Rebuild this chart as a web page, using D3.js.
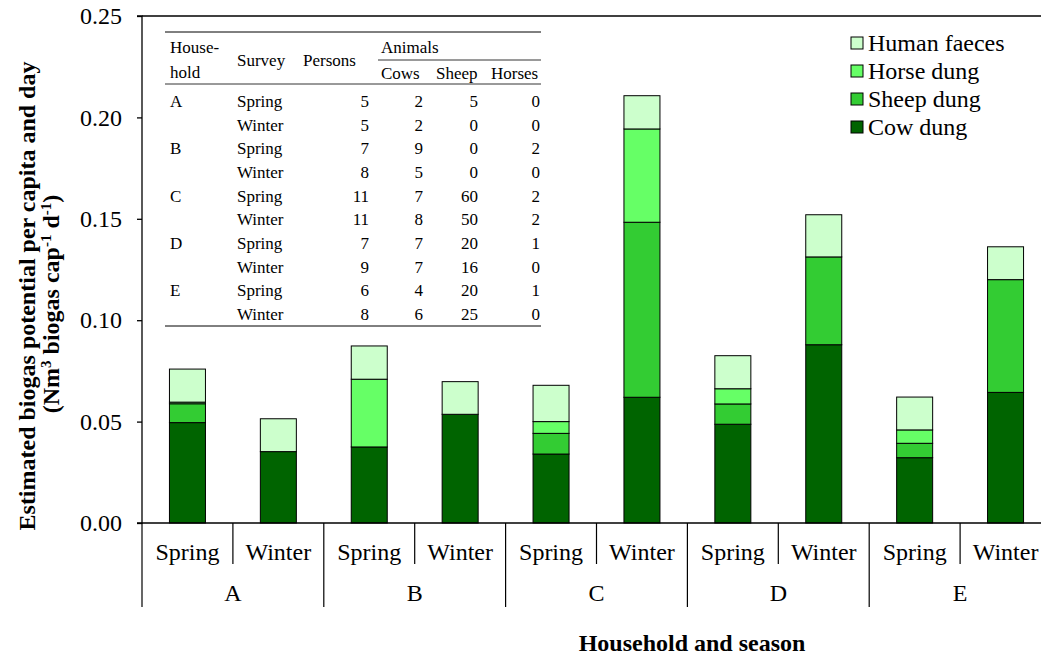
<!DOCTYPE html>
<html>
<head>
<meta charset="utf-8">
<script src="https://cdn.jsdelivr.net/npm/d3@7"></script>
<style>
  body { margin: 0; background: #fff; }
</style>
</head>
<body>
<svg id="chart" width="1041" height="656"></svg>
<script>
// Households and survey seasons (one bar per pair)
const households = ["A", "B", "C", "D", "E"];
const seasons = ["Spring", "Winter"];

// Biogas potential per source, Nm3 per capita and day, in household/season order
const cowDung    = [0.0495, 0.0352, 0.0375, 0.0536, 0.0340, 0.0620, 0.0487, 0.0879, 0.0322, 0.0644];
const sheepDung  = [0.0093, 0.0000, 0.0000, 0.0000, 0.0102, 0.0863, 0.0100, 0.0433, 0.0071, 0.0556];
const horseDung  = [0.0008, 0.0000, 0.0334, 0.0000, 0.0058, 0.0460, 0.0075, 0.0000, 0.0066, 0.0000];
const humanFaeces= [0.0163, 0.0162, 0.0164, 0.0161, 0.0179, 0.0164, 0.0163, 0.0208, 0.0162, 0.0162];

const seriesNames = ["Cow dung", "Sheep dung", "Horse dung", "Human faeces"];
const seriesColors = ["#006400", "#33cc33", "#66ff66", "#ccffcc"];

const yTicks = [0, 0.05, 0.10, 0.15, 0.20, 0.25];

// Inset table: household survey details
const tableHousehold = ["A", "", "B", "", "C", "", "D", "", "E", ""];
const tableSurvey  = ["Spring", "Winter", "Spring", "Winter", "Spring", "Winter", "Spring", "Winter", "Spring", "Winter"];
const tablePersons = [5, 5, 7, 8, 11, 11, 7, 9, 6, 8];
const tableCows    = [2, 2, 9, 5, 7, 8, 7, 7, 4, 6];
const tableSheep   = [5, 0, 0, 0, 60, 50, 20, 16, 20, 25];
const tableHorses  = [0, 0, 2, 0, 2, 2, 1, 0, 1, 0];

const FONT = "'Liberation Serif', 'Times New Roman', Tinos, 'DejaVu Serif', serif";

// Rows combining household and season
const rows = [];
households.forEach(h => seasons.forEach(s => rows.push({ h, s })));
rows.forEach((r, i) => {
  r.values = [cowDung[i], sheepDung[i], horseDung[i], humanFaeces[i]];
  r.key = r.h + "-" + r.s;
});

const svg = d3.select("#chart").attr("font-family", FONT);
const plotLeft = 142, plotRight = 1051, plotTop = 16, plotBottom = 523;

const x = d3.scaleBand().domain(rows.map(r => r.key)).range([plotLeft, plotRight]).paddingInner(0).paddingOuter(0);
const y = d3.scaleLinear().domain([0, 0.25]).range([plotBottom, plotTop]);
const barW = 36;

// Stacked segments
const stack = d3.stack().keys([0, 1, 2, 3]).value((d, k) => d.values[k]);
const layers = stack(rows);

layers.forEach((layer, k) => {
  svg.append("g")
    .selectAll("rect")
    .data(layer.filter(d => d[1] - d[0] > 0))
    .join("rect")
    .attr("x", d => x(d.data.key) + (x.bandwidth() - barW) / 2)
    .attr("width", barW)
    .attr("y", d => y(d[1]))
    .attr("height", d => y(d[0]) - y(d[1]))
    .attr("fill", seriesColors[k])
    .attr("stroke", "#000")
    .attr("stroke-width", 1);
});

// Frame: top line, left axis, baseline
svg.append("line").attr("x1", plotLeft).attr("x2", 1041).attr("y1", plotTop).attr("y2", plotTop)
  .attr("stroke", "#000").attr("stroke-width", 1.3);

const yAxis = d3.axisLeft(y).tickValues(yTicks).tickFormat(d3.format(".2f")).tickSize(5).tickPadding(15);
const gy = svg.append("g").attr("transform", `translate(${plotLeft},0)`).call(yAxis)
  .attr("font-family", FONT).attr("font-size", 24);
gy.select(".domain").attr("stroke-width", 1.3).attr("d", `M-5,${plotTop}H0V${plotBottom}H-5`);
gy.selectAll(".tick line").attr("stroke-width", 1.3);
gy.selectAll(".tick text").attr("fill", "#000");

svg.append("line").attr("x1", plotLeft).attr("x2", 1041).attr("y1", plotBottom).attr("y2", plotBottom)
  .attr("stroke", "#000").attr("stroke-width", 1.3);

// Category separators and labels
rows.forEach((r, i) => {
  const x0 = x(r.key);
  const isGroupStart = i % 2 === 0;
  svg.append("line").attr("x1", x0).attr("x2", x0).attr("y1", plotBottom)
    .attr("y2", isGroupStart ? 607 : 564).attr("stroke", "#000").attr("stroke-width", 1.2);
  svg.append("text").attr("x", x0 + x.bandwidth() / 2).attr("y", 560)
    .attr("text-anchor", "middle").attr("font-size", 24).text(r.s);
});
households.forEach(h => {
  const cx = x(h + "-Spring") + x.bandwidth();
  svg.append("text").attr("x", cx).attr("y", 601).attr("text-anchor", "middle")
    .attr("font-size", 24).text(h);
});

// Axis titles
svg.append("text").attr("x", 692).attr("y", 651).attr("text-anchor", "middle")
  .attr("font-size", 24).attr("font-weight", "bold").text("Household and season");

const yt = svg.append("g").attr("transform", "translate(0,296) rotate(-90)");
yt.append("text").attr("x", 0).attr("y", 35).attr("text-anchor", "middle")
  .attr("font-size", 24).attr("font-weight", "bold")
  .text("Estimated biogas potential per capita and day");
const yt2 = yt.append("text").attr("x", -8).attr("y", 59).attr("text-anchor", "middle")
  .attr("font-size", 24).attr("font-weight", "bold");
yt2.append("tspan").text("(Nm");
yt2.append("tspan").attr("dy", -8).attr("font-size", 15).text("3");
yt2.append("tspan").attr("dy", 8).text(" biogas cap");
yt2.append("tspan").attr("dy", -8).attr("font-size", 15).text("-1");
yt2.append("tspan").attr("dy", 8).text(" d");
yt2.append("tspan").attr("dy", -8).attr("font-size", 15).text("-1");
yt2.append("tspan").attr("dy", 8).text(")");

// Legend (top entry is the top of the stack)
const legendOrder = [3, 2, 1, 0];
legendOrder.forEach((k, i) => {
  const ly = 43 + i * 28;
  svg.append("rect").attr("x", 851).attr("y", ly - 6).attr("width", 12).attr("height", 12)
    .attr("fill", seriesColors[k]).attr("stroke", "#000").attr("stroke-width", 1);
  svg.append("text").attr("x", 868).attr("y", ly + 8).attr("font-size", 24).text(seriesNames[k]);
});

// Inset table
const tbl = svg.append("g").attr("font-size", 17);
const tx0 = 165, tx1 = 541;
tbl.append("line").attr("x1", tx0).attr("x2", tx1).attr("y1", 32).attr("y2", 32).attr("stroke", "#000").attr("stroke-width", 1);
tbl.append("line").attr("x1", 378).attr("x2", tx1).attr("y1", 60).attr("y2", 60).attr("stroke", "#000").attr("stroke-width", 0.8);
tbl.append("line").attr("x1", tx0).attr("x2", tx1).attr("y1", 84).attr("y2", 84).attr("stroke", "#000").attr("stroke-width", 0.8);
tbl.append("line").attr("x1", tx0).attr("x2", tx1).attr("y1", 326).attr("y2", 326).attr("stroke", "#000").attr("stroke-width", 1);

const cell = (t, xx, yy, anchor) => tbl.append("text").attr("x", xx).attr("y", yy)
  .attr("text-anchor", anchor || "start").text(t);
cell("House-", 170, 53);
cell("hold", 170, 78);
cell("Survey", 237, 66);
cell("Persons", 303, 66);
cell("Animals", 381, 53);
cell("Cows", 381, 79);
cell("Sheep", 436, 79);
cell("Horses", 491, 79);

tableSurvey.forEach((s, i) => {
  const ry = 107 + i * 23.67;
  cell(tableHousehold[i], 170, ry);
  cell(s, 237, ry);
  cell(tablePersons[i], 369, ry, "end");
  cell(tableCows[i], 423, ry, "end");
  cell(tableSheep[i], 478, ry, "end");
  cell(tableHorses[i], 540, ry, "end");
});
</script>
</body>
</html>
